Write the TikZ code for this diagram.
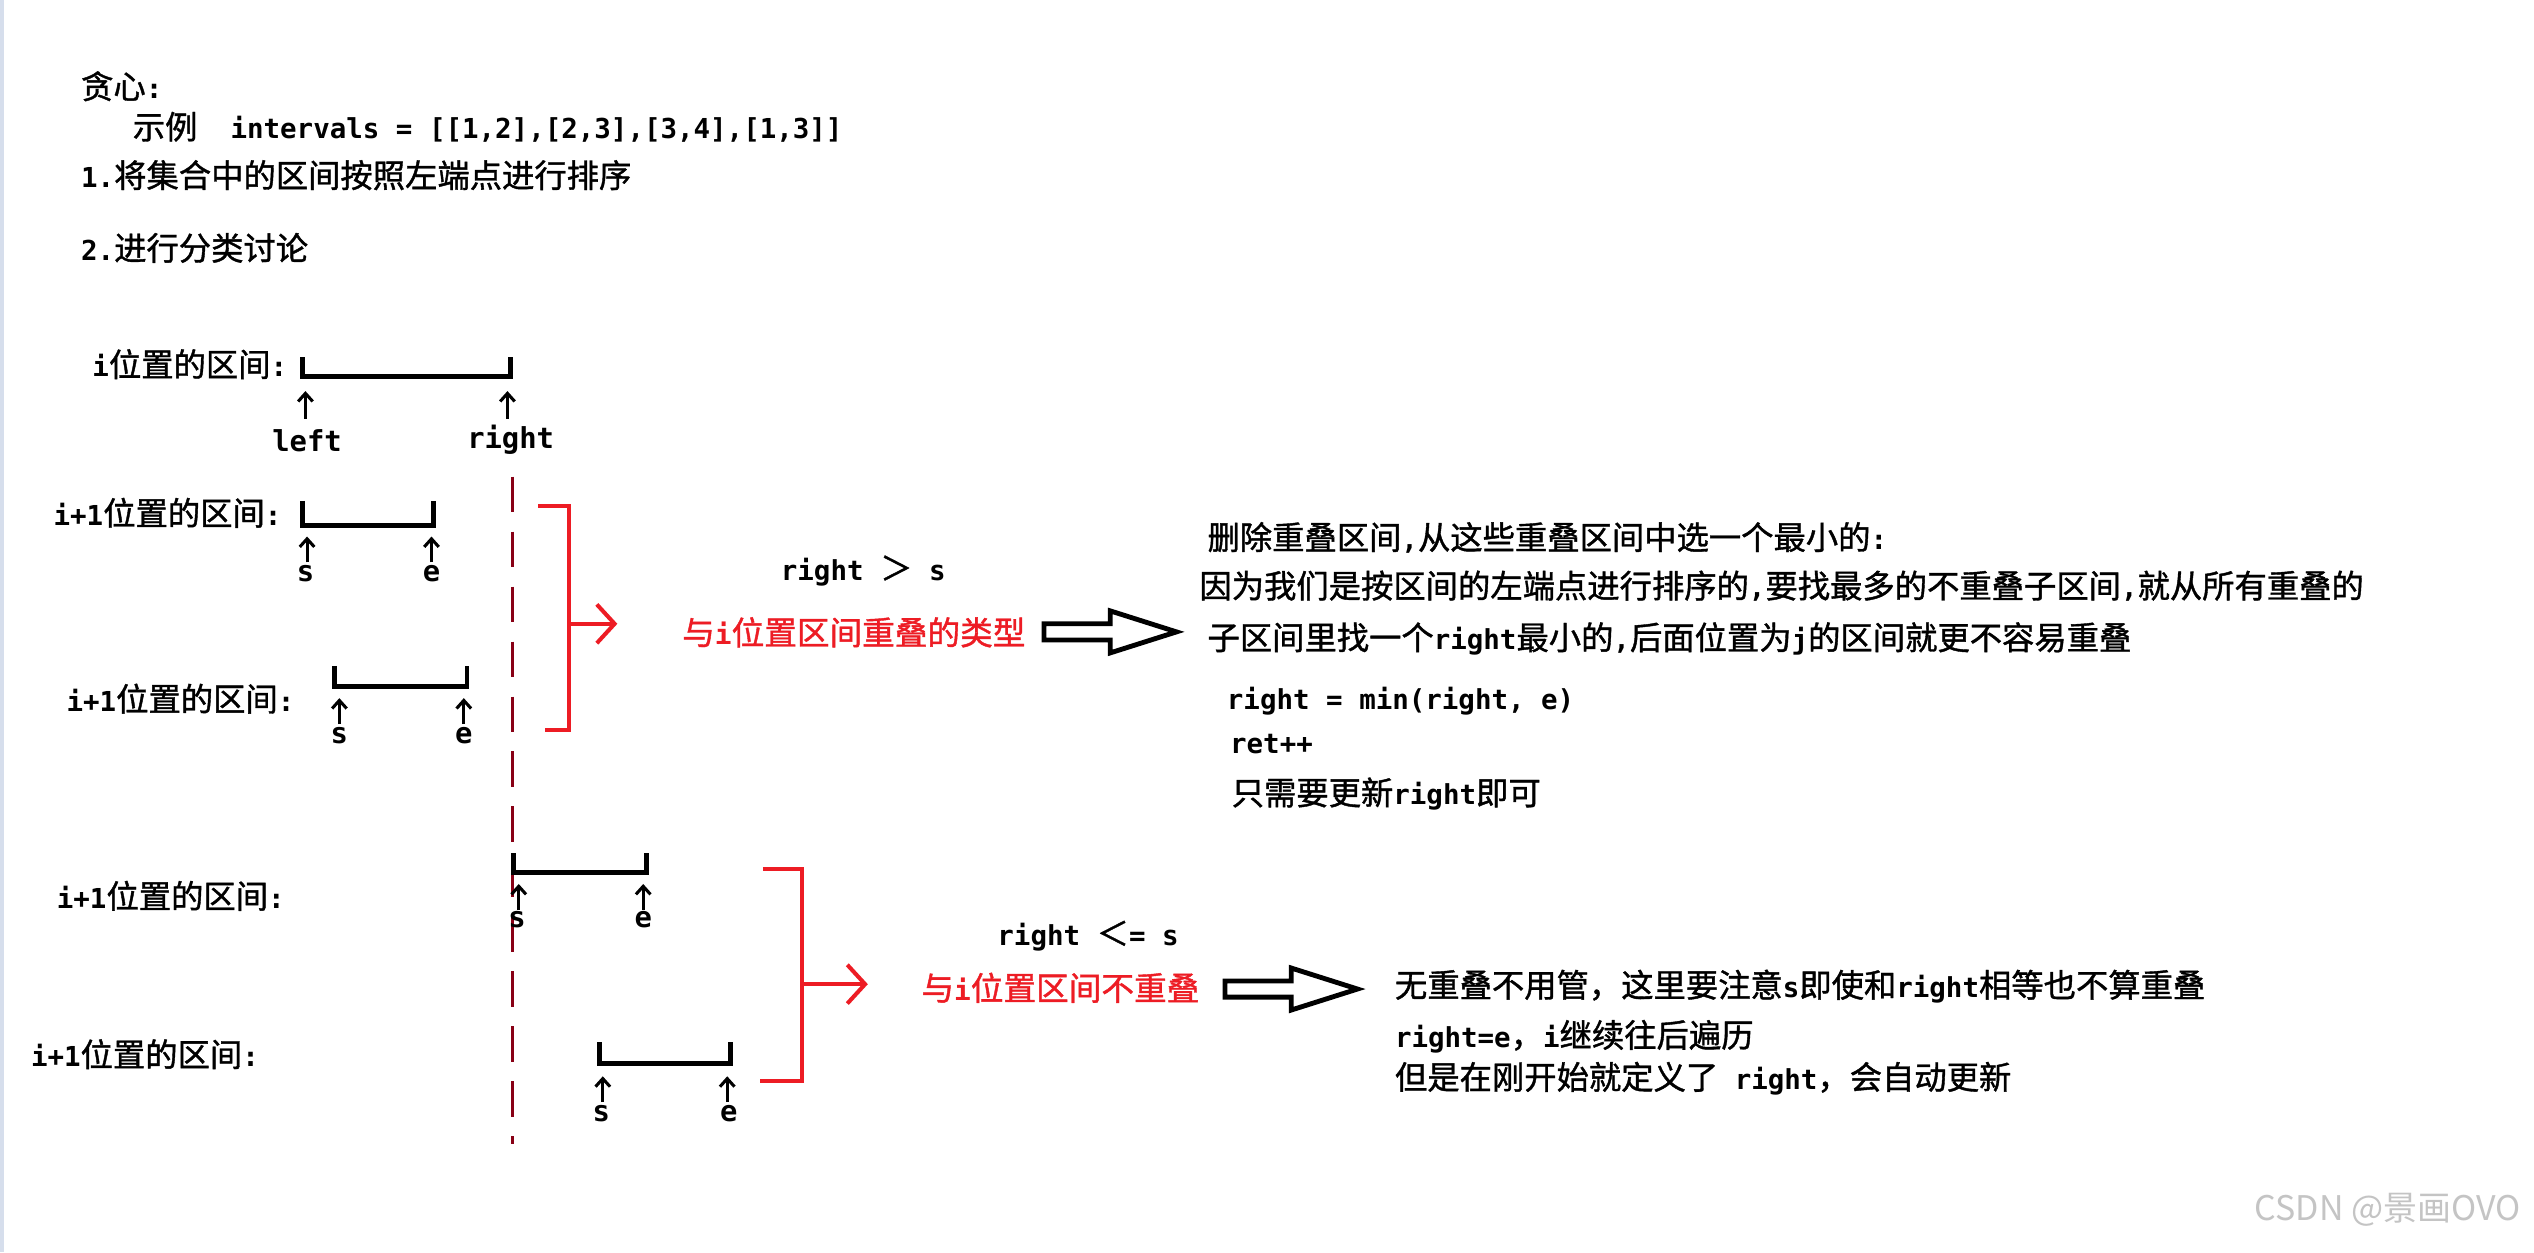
\documentclass[tikz,border=0pt]{standalone}
\usepackage{fontspec}
\setmainfont{Noto Sans CJK SC}[FakeBold=1.2]
\newfontfamily\latfont{DejaVu Sans Mono}[Scale=0.85]
\newfontfamily\wmfont{Noto Sans CJK SC}
\newcommand\Lat[1]{{\latfont\bfseries #1}}
\usetikzlibrary{arrows.meta}
\definecolor{pred}{RGB}{237,28,36}
\definecolor{dred}{RGB}{136,0,21}
\definecolor{stripc}{RGB}{214,222,236}
\definecolor{wmark}{RGB}{196,196,196}
\newcommand\drawivl[4]{\draw[ivl] (#1,#3) -- (#1,#4) -- (#2,#4) -- (#2,#3);}
\begin{document}
\begin{tikzpicture}[x=1pt,y=-1pt,
  txt/.style={anchor=base west, inner sep=0pt, font=\fontsize{20}{24}\selectfont},
  redtxt/.style={anchor=base west, inner sep=0pt, text=pred, font=\fontsize{20.2}{24}\selectfont},
  lbl/.style={inner sep=0pt, font=\fontsize{21}{24}\selectfont},
  ivl/.style={line width=3pt, line join=miter},
  uparrow/.style={line width=1.9pt, -{Straight Barb[length=5pt,width=9pt]}},
  rbracket/.style={draw=pred, line width=2.5pt},
  rarrow/.style={draw=pred, line width=2.5pt, -{Straight Barb[length=11pt,width=24pt]}},
  blockarrow/.style={draw=black, line width=3pt, fill=white, line join=miter},
  dashline/.style={draw=dred, line width=2pt, dash pattern=on 22pt off 12pt}
]
\useasboundingbox (0,0) rectangle (1568,775);
\fill[white] (0,0) rectangle (1568,775);
\fill[stripc] (0,0) rectangle (2.5,775);

% header texts
\node[txt] (t1) at (50,61) {贪心\Lat{:}};
\node[txt] (t2) at (82,86) {示例\Lat{~~intervals = [[1,2],[2,3],[3,4],[1,3]]}};
\node[txt] (t3) at (50,116) {\Lat{1.}将集合中的区间按照左端点进行排序};
\node[txt] (t4) at (50,161) {\Lat{2.}进行分类讨论};

% i interval
\node[txt] (lab0) at (57,233) {\Lat{i}位置的区间\Lat{:}};
\drawivl{187}{316}{221}{233}
\draw[uparrow] (189,259) -- (189,242);
\draw[uparrow] (314,259) -- (314,242);
\node[lbl] (lleft) at (190,273) {\Lat{left}};
\node[lbl] (lright) at (316,272) {\Lat{right}};

% dashed line
\coordinate (dtop) at (317,295);
\coordinate (dbot) at (317,708);
\draw[dashline] (dtop) -- (dbot);

% i+1 intervals (overlap)
\node[txt] (lab1) at (33,325) {\Lat{i+1}位置的区间\Lat{:}};
\drawivl{187}{268}{310}{325}
\draw[uparrow] (190,348) -- (190,332);
\draw[uparrow] (267,348) -- (267,332);
\node[lbl] (s1) at (189,355) {\Lat{s}};
\node[lbl] (e1) at (267,355) {\Lat{e}};

\node[txt] (lab2) at (41,440) {\Lat{i+1}位置的区间\Lat{:}};
\drawivl{207}{289}{412}{425}
\draw[uparrow] (210,448) -- (210,432);
\draw[uparrow] (287,448) -- (287,432);
\node[lbl] (s2) at (210,455) {\Lat{s}};
\node[lbl] (e2) at (287,455) {\Lat{e}};

% red bracket 1
\draw[rbracket] (333,313) -- (352,313) -- (352,452) -- (337,452);
\coordinate (ra1) at (352,386);
\coordinate (rb1) at (382,386);
\draw[rarrow] (ra1) -- (rb1);

\node[txt] (c1) at (483,359) {\Lat{right }＞\Lat{ s}};
\node[redtxt] (red1) at (422,399) {与\Lat{i}位置区间重叠的类型};
\draw[blockarrow] (646,386) -- (687,386) -- (687,378) -- (728,391) -- (687,404) -- (687,396) -- (646,396) -- cycle;

\node[txt] (r1) at (747,340) {删除重叠区间\Lat{,}从这些重叠区间中选一个最小的\Lat{:}};
\node[txt] (r2) at (742,370) {因为我们是按区间的左端点进行排序的\Lat{,}要找最多的不重叠子区间\Lat{,}就从所有重叠的};
\node[txt] (r3) at (747,402) {子区间里找一个\Lat{right}最小的\Lat{,}后面位置为\Lat{j}的区间就更不容易重叠};
\node[txt] (r4) at (759,439) {\Lat{right = min(right, e)}};
\node[txt] (r5) at (761,466) {\Lat{ret++}};
\node[txt] (r6) at (762,498) {只需要更新\Lat{right}即可};

% i+1 intervals (no overlap)
\node[txt] (lab3) at (35,562) {\Lat{i+1}位置的区间\Lat{:}};
\drawivl{318}{400}{528}{540}
\draw[uparrow] (321,563) -- (321,547);
\draw[uparrow] (398,563) -- (398,547);
\node[lbl] (s3) at (320,569) {\Lat{s}};
\node[lbl] (e3) at (398,569) {\Lat{e}};

\node[txt] (lab4) at (19,660) {\Lat{i+1}位置的区间\Lat{:}};
\drawivl{371}{452}{645}{658}
\draw[uparrow] (373,682) -- (373,666);
\draw[uparrow] (450,682) -- (450,666);
\node[lbl] (s4) at (372,689) {\Lat{s}};
\node[lbl] (e4) at (451,689) {\Lat{e}};

% red bracket 2
\draw[rbracket] (472,538) -- (496,538) -- (496,669) -- (470,669);
\coordinate (ra2) at (496,609);
\coordinate (rb2) at (537,609);
\draw[rarrow] (ra2) -- (rb2);

\node[txt] (c2) at (617,585) {\Lat{right }＜\Lat{= s}};
\node[redtxt] (red2) at (570,619) {与\Lat{i}位置区间不重叠};
\draw[blockarrow] (758,607) -- (799,607) -- (799,599) -- (840,612) -- (799,625) -- (799,617) -- (758,617) -- cycle;

\node[txt] (q1) at (863,617) {无重叠不用管，这里要注意\Lat{s}即使和\Lat{right}相等也不算重叠};
\node[txt] (q2) at (863,648) {\Lat{right=e}，\Lat{i}继续往后遍历};
\node[txt] (q3) at (863,674) {但是在刚开始就定义了\Lat{ right}，会自动更新};

% watermark
\node[anchor=base west, inner sep=0pt, text=wmark, font=\wmfont\fontsize{21}{25}\selectfont] (wm) at (1395,755) {CSDN @景画OVO};
\end{tikzpicture}
\end{document}
